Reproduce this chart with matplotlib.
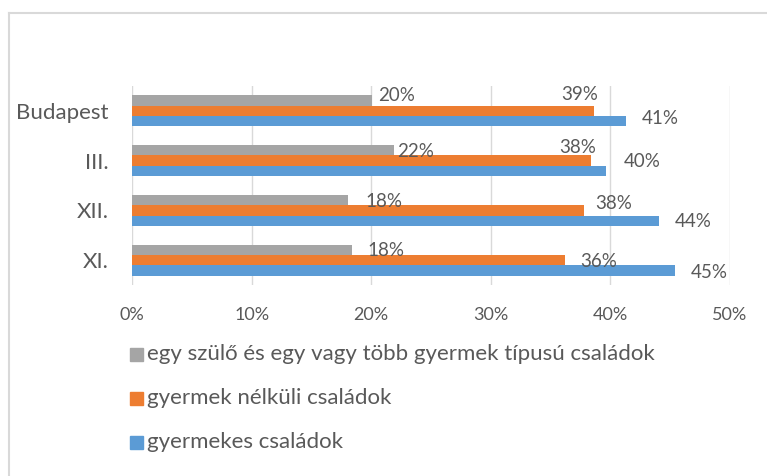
import numpy as np
import matplotlib.pyplot as plt
from matplotlib.lines import Line2D
from matplotlib.patches import Rectangle

plt.rcParams['font.family'] = ['Lato', 'DejaVu Sans']

# data (bottom to top)
categories = ["XI.", "XII.", "III.", "Budapest"]
series_names = ["egy szülő és egy vagy több gyermek típusú családok",
                "gyermek nélküli családok",
                "gyermekes családok"]
egy_szulo = [18.4, 18.1, 21.9, 20.1]
gyermek_nelkuli = [36.2, 37.8, 38.4, 38.6]
gyermekes = [45.4, 44.1, 39.6, 41.3]
xticks = [0, 10, 20, 30, 40, 50]

colors = ["#A5A5A5", "#ED7D31", "#5B9BD5"]
text_col = "#595959"
W, H = 767, 476

# label offsets (pixels right / down from bar end & bar centre), as placed in the original
label_offsets = [
    [(34, 1), (35, 1), (22, 1), (24, -5)],
    [(34, 1), (30, -6.7), (-14, -12.7), (-14, -16)],
    [(34, 2), (34, 1), (37, -9), (34, -3)],
]

fig = plt.figure(figsize=(W / 100, H / 100), dpi=100)
ax = fig.add_axes([132 / W, 1 - 285 / H, (730 - 132) / W, (285 - 86) / H])

y = np.arange(len(categories))
h = 0.207
all_series = [egy_szulo, gyermek_nelkuli, gyermekes]
shifts = [h, 0, -h]
for vals, col, sh, offs in zip(all_series, colors, shifts, label_offsets):
    bars = ax.barh(y + sh, vals, height=h, color=col, zorder=3)
    for yy, v, (dx, dy) in zip(y + sh, vals, offs):
        ax.annotate(f"{round(v):.0f}%", (v, yy), xytext=(dx * 0.72, -dy * 0.72),
                    textcoords="offset points", ha="center", va="center",
                    fontsize=13.5, color=text_col, zorder=4)

ax.set_xlim(0, 50)
ax.set_ylim(-0.5, len(categories) - 0.5)
ax.set_xticks(xticks)
ax.set_xticklabels([f"{t}%" for t in xticks], fontsize=13, color=text_col)
ax.set_yticks(y)
ax.set_yticklabels(categories, fontsize=16, color=text_col)
ax.tick_params(length=0, pad=17, axis="y")
ax.tick_params(length=0, pad=16, axis="x")
ax.grid(axis="x", color="#D9D9D9", linewidth=1.0, zorder=0)
for s in ax.spines.values():
    s.set_visible(False)

# legend drawn manually
leg_y = [354, 398.5, 442]
for name, col, ly in zip(series_names, colors, leg_y):
    fig.patches.append(Rectangle((130 / W, 1 - (ly + 6.5) / H), 13 / W, 13 / H,
                                 transform=fig.transFigure, color=col, figure=fig))
    fig.text(147 / W, 1 - ly / H, name, fontsize=16, color=text_col, va="center", ha="left")

# chart area border (only top and left are visible)
fig.lines.append(Line2D([8.5 / W, 1], [1 - 12.5 / H, 1 - 12.5 / H], transform=fig.transFigure,
                        color="#D9D9D9", linewidth=1.5))
fig.lines.append(Line2D([8.5 / W, 8.5 / W], [1 - 12.5 / H, 0], transform=fig.transFigure,
                        color="#D9D9D9", linewidth=1.5))

fig.savefig("out.png", dpi=100)
